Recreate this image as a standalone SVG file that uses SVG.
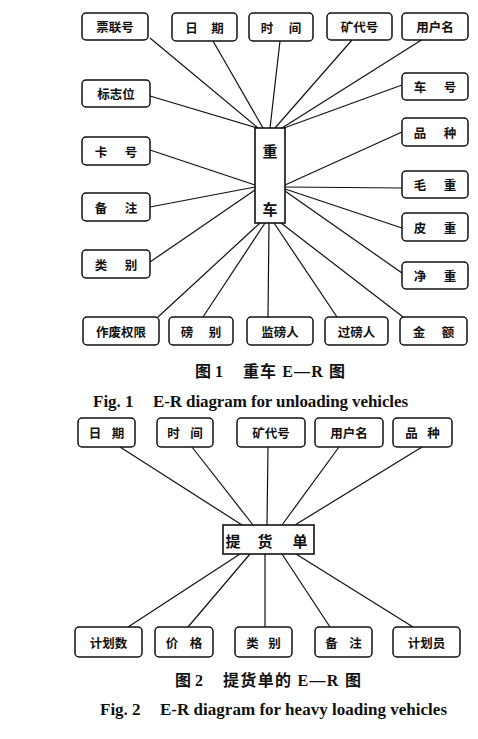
<svg xmlns="http://www.w3.org/2000/svg" width="478" height="739" viewBox="0 0 478 739">
<style>
.b{fill:#fff;stroke:#111;stroke-width:1.5}
.e{fill:#fff;stroke:#111;stroke-width:1.6}
.l{font-family:"Noto Sans CJK SC",sans-serif;font-weight:bold;font-size:12.5px;fill:#111;text-anchor:middle;dominant-baseline:central}
.c{font-family:"Noto Sans CJK SC",sans-serif;font-weight:bold;font-size:15px;fill:#111;text-anchor:middle;dominant-baseline:central}
.cap{font-family:"Liberation Serif","Noto Sans CJK SC",serif;font-weight:bold;font-size:16px;fill:#111}
.fig{font-family:"Liberation Serif",serif;font-weight:bold;font-size:17px;fill:#111}
#conn line{stroke:#111;stroke-width:1.2}
</style>
<rect width="478" height="739" fill="#fff"/>
<g id="conn">
<line x1="150" y1="38" x2="258" y2="128"/>
<line x1="213" y1="41" x2="263" y2="128"/>
<line x1="280" y1="41" x2="270" y2="128"/>
<line x1="352" y1="40" x2="275" y2="128"/>
<line x1="423" y1="39" x2="282" y2="128"/>
<line x1="150" y1="96" x2="257" y2="128"/>
<line x1="402" y1="85" x2="284" y2="128"/>
<line x1="402" y1="132" x2="285" y2="185"/>
<line x1="150" y1="150" x2="255" y2="185"/>
<line x1="150" y1="207" x2="255" y2="187"/>
<line x1="402" y1="188" x2="285" y2="187"/>
<line x1="402" y1="228" x2="285" y2="189"/>
<line x1="150" y1="262" x2="255" y2="190"/>
<line x1="402" y1="273" x2="285" y2="191"/>
<line x1="158" y1="317" x2="260" y2="223"/>
<line x1="203" y1="317" x2="265" y2="223"/>
<line x1="268" y1="317" x2="269" y2="223"/>
<line x1="337" y1="317" x2="274" y2="223"/>
<line x1="403" y1="317" x2="281" y2="223"/>
<line x1="120" y1="447" x2="242" y2="525"/>
<line x1="192" y1="447" x2="253" y2="525"/>
<line x1="268" y1="447" x2="267" y2="525"/>
<line x1="339" y1="447" x2="282" y2="525"/>
<line x1="422" y1="447" x2="295" y2="525"/>
<line x1="128" y1="627" x2="240" y2="554"/>
<line x1="188" y1="627" x2="250" y2="554"/>
<line x1="265" y1="627" x2="265" y2="554"/>
<line x1="330" y1="627" x2="282" y2="554"/>
<line x1="413" y1="627" x2="296" y2="554"/>
</g>
<g id="fig1">
<g id="n-zhongche"><rect class="e" x="255" y="128" width="30" height="95"/><text class="c" x="270" y="150">重</text><text class="c" x="270" y="208">车</text></g>
<g id="n-piaolianhao"><rect class="b" x="82" y="13" width="66" height="27" rx="4"/><text class="l" x="115" y="26.5">票联号</text></g>
<g id="n-riqi1"><rect class="b" x="172" y="13" width="65" height="28" rx="4"/><text class="l" x="191.5 217.5" y="27">日期</text></g>
<g id="n-shijian1"><rect class="b" x="249" y="13" width="64" height="28" rx="4"/><text class="l" x="267 295" y="27">时间</text></g>
<g id="n-kuangdaihao1"><rect class="b" x="327" y="13" width="65" height="27" rx="4"/><text class="l" x="359.5" y="26.5">矿代号</text></g>
<g id="n-yonghuming1"><rect class="b" x="402" y="13" width="66" height="27" rx="4"/><text class="l" x="435" y="26.5">用户名</text></g>
<g id="n-biaozhiwei"><rect class="b" x="82" y="80" width="68" height="27" rx="4"/><text class="l" x="116" y="93.5">标志位</text></g>
<g id="n-kahao"><rect class="b" x="82" y="137" width="68" height="28" rx="4"/><text class="l" x="101 131" y="151">卡号</text></g>
<g id="n-beizhu1"><rect class="b" x="82" y="193" width="68" height="28" rx="4"/><text class="l" x="101 131" y="207">备注</text></g>
<g id="n-leibie1"><rect class="b" x="82" y="250" width="68" height="28" rx="4"/><text class="l" x="101 131" y="264">类别</text></g>
<g id="n-chehao"><rect class="b" x="402" y="73" width="66" height="27" rx="4"/><text class="l" x="420 450" y="86.5">车号</text></g>
<g id="n-pinzhong1"><rect class="b" x="402" y="118" width="66" height="28" rx="4"/><text class="l" x="420 450" y="132">品种</text></g>
<g id="n-maozhong"><rect class="b" x="402" y="171" width="66" height="27" rx="4"/><text class="l" x="420 450" y="184.5">毛重</text></g>
<g id="n-pizhong"><rect class="b" x="402" y="213" width="66" height="28" rx="4"/><text class="l" x="420 450" y="227">皮重</text></g>
<g id="n-jingzhong"><rect class="b" x="402" y="262" width="66" height="27" rx="4"/><text class="l" x="420 450" y="275.5">净重</text></g>
<g id="n-zuofei"><rect class="b" x="83" y="317" width="76" height="28" rx="4"/><text class="l" x="121" y="331">作废权限</text></g>
<g id="n-bangbie"><rect class="b" x="169" y="317" width="64" height="28" rx="4"/><text class="l" x="187 215" y="331">磅别</text></g>
<g id="n-jianbangren"><rect class="b" x="247" y="317" width="66" height="28" rx="4"/><text class="l" x="280" y="331">监磅人</text></g>
<g id="n-guobangren"><rect class="b" x="325" y="317" width="63" height="28" rx="4"/><text class="l" x="356.5" y="331">过磅人</text></g>
<g id="n-jine"><rect class="b" x="400" y="317" width="67" height="28" rx="4"/><text class="l" x="419 448" y="331">金额</text></g>
</g>
<text class="cap" y="377"><tspan x="195">图 1</tspan><tspan x="243" textLength="102">重车 E—R 图</tspan></text>
<text class="fig" y="407"><tspan x="93">Fig. 1</tspan><tspan x="153" textLength="255">E-R diagram for unloading vehicles</tspan></text>
<g id="fig2">
<g id="n-tihuodan"><rect class="e" x="223" y="525" width="91" height="29"/><text class="c" x="233 265 300" y="540">提货单</text></g>
<g id="n-riqi2"><rect class="b" x="78" y="418" width="57" height="29" rx="4"/><text class="l" x="95 118" y="432.5">日期</text></g>
<g id="n-shijian2"><rect class="b" x="157" y="418" width="56" height="29" rx="4"/><text class="l" x="173.5 196.5" y="432.5">时间</text></g>
<g id="n-kuangdaihao2"><rect class="b" x="237" y="418" width="68" height="29" rx="4"/><text class="l" x="271" y="432.5">矿代号</text></g>
<g id="n-yonghuming2"><rect class="b" x="315" y="418" width="68" height="29" rx="4"/><text class="l" x="349" y="432.5">用户名</text></g>
<g id="n-pinzhong2"><rect class="b" x="393" y="418" width="59" height="29" rx="4"/><text class="l" x="411.5 433.5" y="432.5">品种</text></g>
<g id="n-jihuashu"><rect class="b" x="75" y="627" width="67" height="30" rx="4"/><text class="l" x="108.5" y="642">计划数</text></g>
<g id="n-jiage"><rect class="b" x="155" y="627" width="58" height="30" rx="4"/><text class="l" x="172 196" y="642">价格</text></g>
<g id="n-leibie2"><rect class="b" x="235" y="627" width="57" height="30" rx="4"/><text class="l" x="252.5 274.5" y="642">类别</text></g>
<g id="n-beizhu2"><rect class="b" x="315" y="627" width="57" height="30" rx="4"/><text class="l" x="331.5 355.5" y="642">备注</text></g>
<g id="n-jihuayuan"><rect class="b" x="393" y="627" width="67" height="30" rx="4"/><text class="l" x="426.5" y="642">计划员</text></g>
</g>
<text class="cap" y="686"><tspan x="175">图 2</tspan><tspan x="223" textLength="138">提货单的 E—R 图</tspan></text>
<text class="fig" y="715"><tspan x="100">Fig. 2</tspan><tspan x="160" textLength="287">E-R diagram for heavy loading vehicles</tspan></text>
</svg>
